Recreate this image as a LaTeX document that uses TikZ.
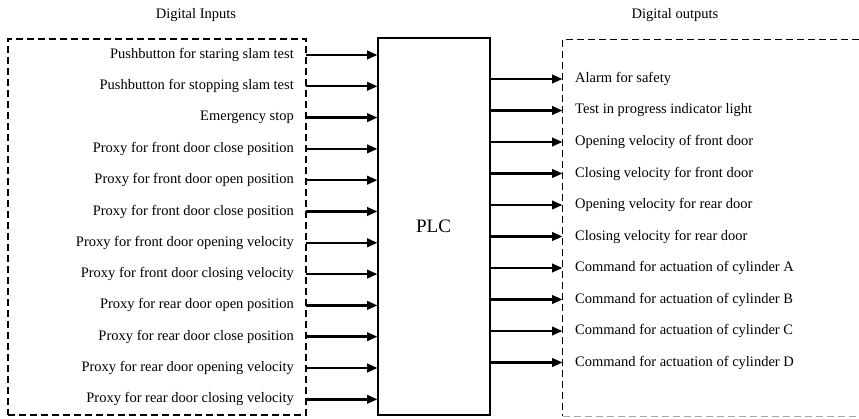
\documentclass[tikz,border=0pt]{standalone}
\usepackage{fontspec}
\setmainfont{Liberation Serif}
\usetikzlibrary{arrows.meta,positioning}
\tikzset{
  sig/.style={line width=2.4pt,-{Triangle[length=10.5pt,width=8.5pt]}},
  group/.style={draw,line width=2pt,dash pattern=on 7pt off 4pt,inner sep=0pt,outer sep=0pt},
  lbl/.style={inner sep=0pt,font=\fontsize{14.5}{16}\selectfont},
  head/.style={font=\fontsize{14.5}{16}\selectfont},
  plcbox/.style={draw,line width=2pt,inner sep=0pt,outer sep=0pt,font=\fontsize{19}{22}\selectfont}
}

\begin{document}
\begin{tikzpicture}[x=1pt,y=-1pt]
  \useasboundingbox (0,0) rectangle (859,419);
  \node[head] (intitle) at (196,15) {Digital Inputs};
  \node[head] (outtitle) at (675,15) {Digital outputs};
  \node[group,minimum width=298pt,minimum height=376pt] (inbox) at (157,227) {};
  \node[plcbox,minimum width=112pt,minimum height=377pt] (plc) at (433.5,226.5) {PLC};
  \coordinate (outedge) at (562.5,39.5);
  \draw[group,line width=1.6pt] (859,39.5) -- (outedge) -- (562.5,415.5);
  \draw[gray!70,line width=1.2pt,dash pattern=on 7pt off 4pt] (562.5,416.5) -- (859,416.5);
  \foreach \txt [count=\i] in {Pushbutton for staring slam test,Pushbutton for stopping slam test,
      Emergency stop,Proxy for front door close position,Proxy for front door open position,
      Proxy for front door close position,Proxy for front door opening velocity,
      Proxy for front door closing velocity,Proxy for rear door open position,
      Proxy for rear door close position,Proxy for rear door opening velocity,
      Proxy for rear door closing velocity}
  {
    \node[lbl,anchor=east] (in\i) at (294,{55+31.3*(\i-1)}) {\txt};
    \draw[sig] (in\i.east -| inbox.east) -- (in\i.east -| plc.west);
  }
  \foreach \txt [count=\j] in {Alarm for safety,Test in progress indicator light,
      Opening velocity of front door,Closing velocity for front door,
      Opening velocity for rear door,Closing velocity for rear door,
      Command for actuation of cylinder A,Command for actuation of cylinder B,
      Command for actuation of cylinder C,Command for actuation of cylinder D}
  {
    \node[lbl,anchor=west] (out\j) at (575,{79+31.5*(\j-1)}) {\txt};
    \draw[sig] (out\j.west -| plc.east) -- (out\j.west -| outedge);
  }
\end{tikzpicture}
\end{document}
